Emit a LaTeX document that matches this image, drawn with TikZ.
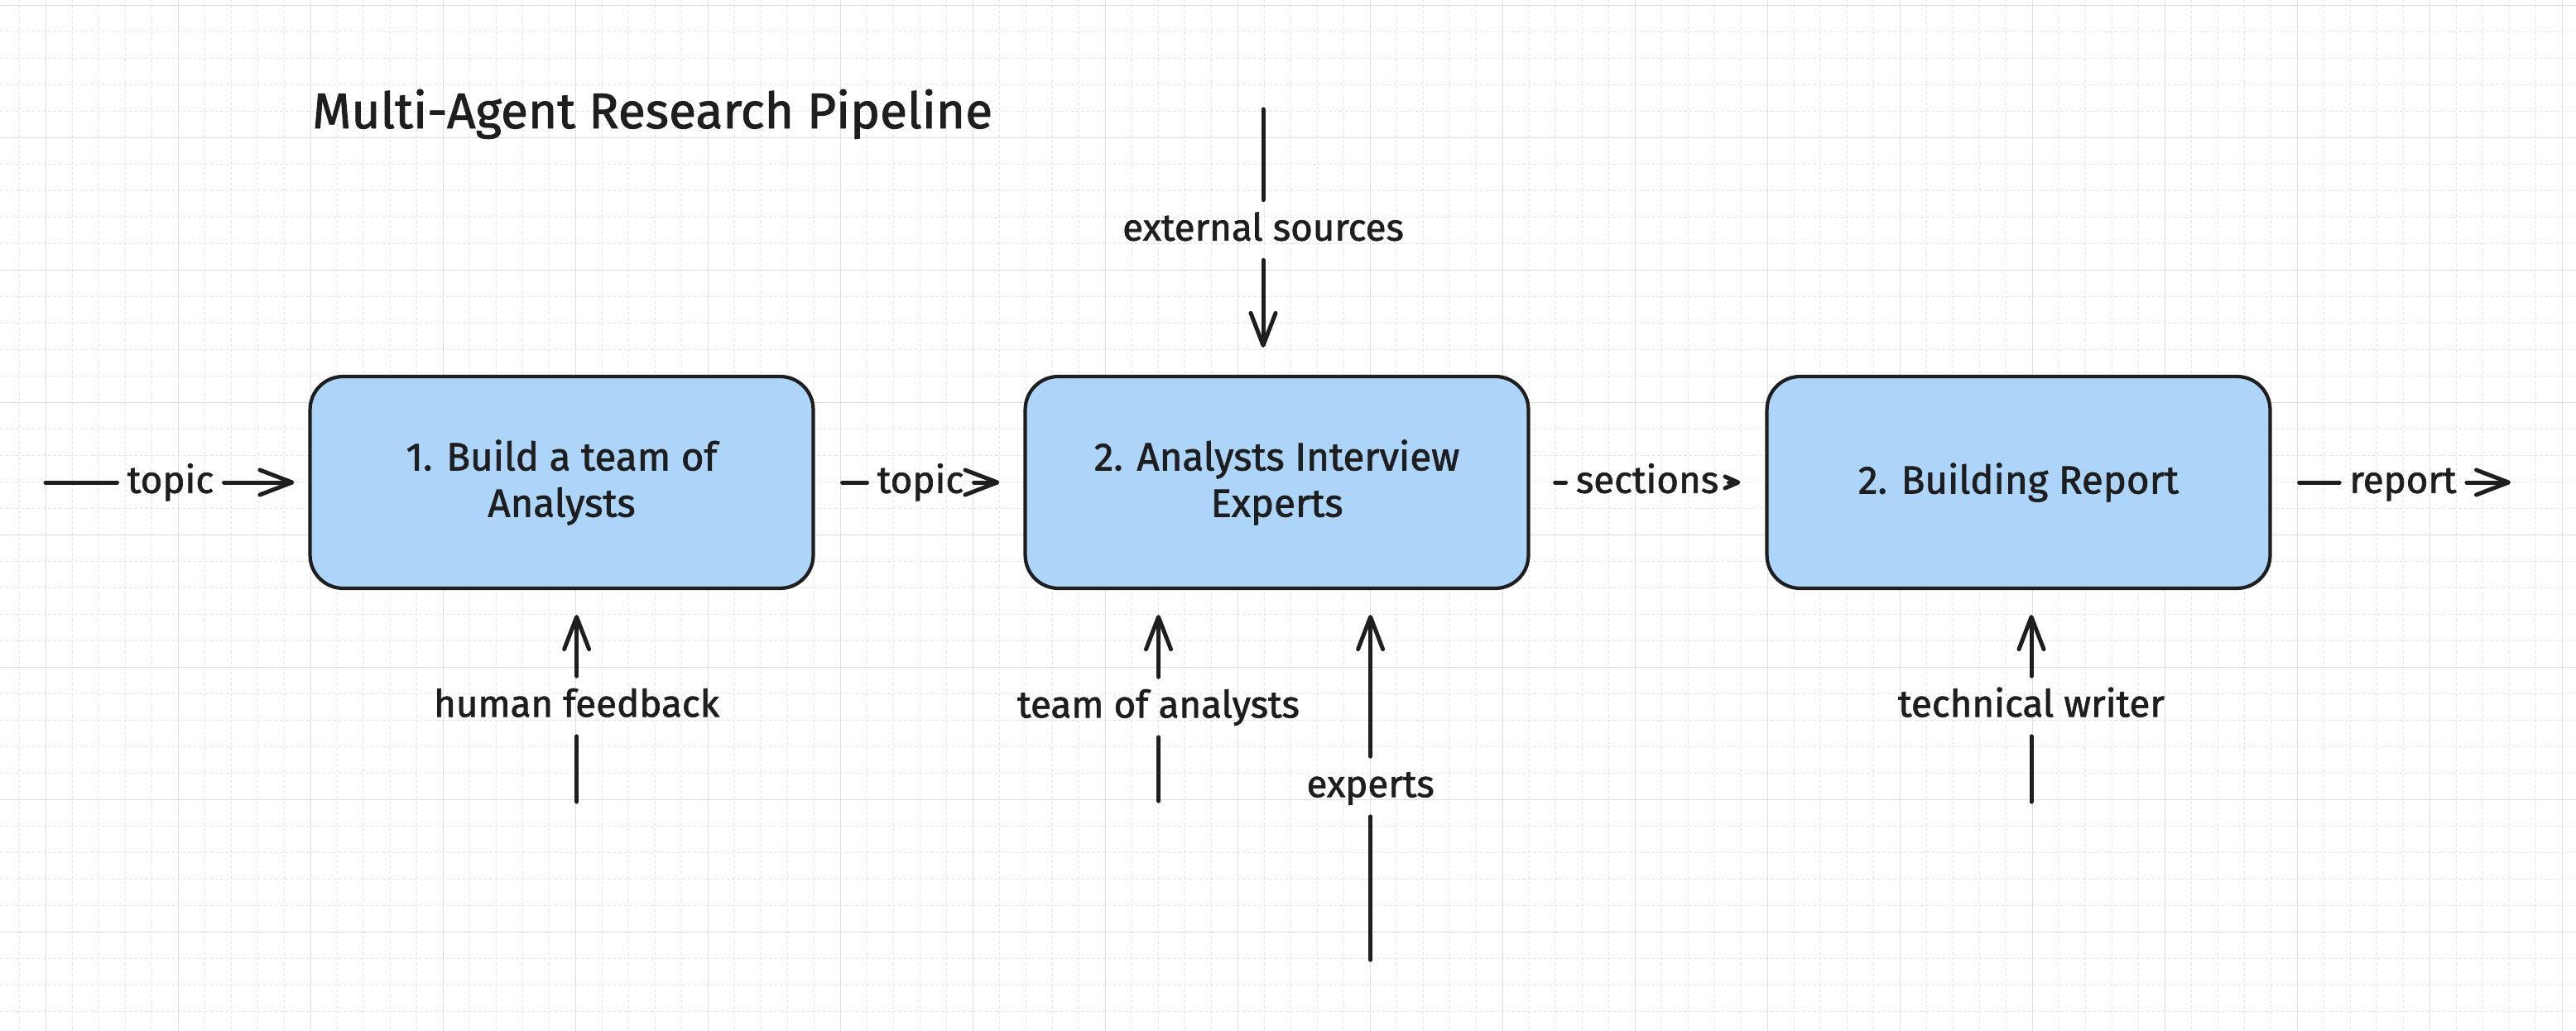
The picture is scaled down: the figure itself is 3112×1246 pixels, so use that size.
\documentclass[tikz,border=0pt]{standalone}
\usepackage{fontspec}
\setmainfont{Fira Sans}[FakeBold=1.5]
\usetikzlibrary{arrows.meta}
\definecolor{ink}{HTML}{1E1E1E}
\definecolor{boxfill}{HTML}{ADD5FA}
\definecolor{gridmajor}{HTML}{DDDDDD}
\definecolor{gridminor}{HTML}{E4E4E4}
\begin{document}
\begin{tikzpicture}[x=0.02cm,y=-0.02cm,
  gminor/.style={draw=gridminor, line width=0.02cm, dash pattern=on 0.07cm off 0.06cm},
  gmajor/.style={draw=gridmajor, line width=0.03cm},
  stage/.style={draw=ink, fill=boxfill, line width=0.085cm, rounded corners=0.8cm,
    minimum width=12.16cm, minimum height=5.12cm, inner sep=0, align=center,
    text=ink, font=\fontsize{27}{31.9}\selectfont},
  lbl/.style={font=\fontsize{26}{31.9}\selectfont, text=ink, inner xsep=0.24cm, inner ysep=0,
    text height=21pt, text depth=6.5pt, minimum height=1.44cm},
  flow/.style={draw=ink, line width=0.1cm, line cap=round},
  tip/.style={-{Straight Barb[length=0.78cm,width=0.6cm,round]}},
  smalltip/.style={-{Straight Barb[length=0.32cm,width=0.28cm,round]}},
  titletext/.style={font=\fontsize{34.4}{40}\selectfont, text=ink, inner sep=0}
]
\useasboundingbox (0,0) rectangle (3112,1246);
\fill[white] (0,0) rectangle (3112,1246);
% grid
\foreach \k in {0,...,96} \draw[gminor] ({23.5+32*\k},0) -- ({23.5+32*\k},1246);
\foreach \k in {0,...,38} \draw[gminor] (0,{6.7+32*\k}) -- (3112,{6.7+32*\k});
\foreach \k in {0,...,19} \draw[gmajor] ({55.5+160*\k},0) -- ({55.5+160*\k},1246);
\foreach \k in {0,...,7} \draw[gmajor] (0,{6.7+160*\k}) -- (3112,{6.7+160*\k});

% title
\node[titletext, anchor=base west] (title) at (377,155) {Multi-Agent Research Pipeline};

% stages
\node[stage] (b1) at (678.5,583) {1. Build a team of\\Analysts};
\node[stage] (b2) at (1542.5,583) {2. Analysts Interview\\Experts};
\node[stage] (b3) at (2438.5,583) {2. Building Report};

% horizontal flow
\coordinate (in0) at (55,583);
\node[lbl] (tp1) at (206,583) {topic};
\draw[flow] (in0) -- (tp1.west);
\draw[flow,tip,shorten >=0.34cm] (tp1.east) -- (b1.west);

\node[lbl] (tp2) at (1112,583) {topic};
\draw[flow,shorten <=0.66cm] (b1.east) -- (tp2.west);
\draw[flow,tip,shorten >=0.58cm] (tp2.east) -- (b2.west);

\node[lbl] (sc) at (1990,583) {sections};
\draw[flow,shorten <=0.6cm] (b2.east) -- (sc.west);
\draw[flow,smalltip,shorten >=0.6cm] (sc.east) -- (b3.west);

\coordinate (out) at (3033,583);
\node[lbl] (rp) at (2903,583) {report};
\draw[flow,shorten <=0.66cm] (b3.east) -- (rp.west);
\draw[flow,tip] (rp.east) -- (out);

% external sources
\coordinate (ex0) at (1526,132);
\node[lbl] (ex) at (1526,278) {external sources};
\draw[flow] (ex0) -- (ex0 |- ex.north);
\draw[flow,tip,shorten >=0.66cm] (ex0 |- ex.south) -- (ex0 |- b2.north);

% human feedback
\coordinate (hf0) at (696.6,969);
\node[lbl] (hf) at (696.6,853.5) {human feedback};
\draw[flow] (hf0) -- (hf0 |- hf.south);
\draw[flow,tip,shorten >=0.6cm] (hf0 |- hf.north) -- (hf0 |- b1.south);

% team of analysts
\coordinate (ta0) at (1399.5,968);
\node[lbl] (ta) at (1399.5,854.5) {team of analysts};
\draw[flow] (ta0) -- (ta0 |- ta.south);
\draw[flow,tip,shorten >=0.6cm] (ta0 |- ta.north) -- (ta0 |- b2.south);

% experts
\coordinate (ep0) at (1655.6,1160);
\node[lbl] (ep) at (1655.6,950.5) {experts};
\draw[flow] (ep0) -- (ep0 |- ep.south);
\draw[flow,tip,shorten >=0.6cm] (ep0 |- ep.north) -- (ep0 |- b2.south);

% technical writer
\coordinate (tw0) at (2454,969);
\node[lbl] (tw) at (2454,853.5) {technical writer};
\draw[flow] (tw0) -- (tw0 |- tw.south);
\draw[flow,tip,shorten >=0.6cm] (tw0 |- tw.north) -- (tw0 |- b3.south);
\end{tikzpicture}
\end{document}
